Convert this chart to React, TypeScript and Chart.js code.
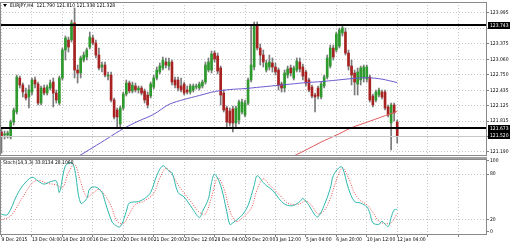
import React, { useEffect, useRef } from 'react';
import { Chart, registerables } from 'chart.js';

Chart.register(...registerables);

const N_SLOTS = 160;
const dateLabels = ['9 Dec 2015', '13 Dec 04:00', '14 Dec 20:00', '16 Dec 12:00', '20 Dec 04:00', '21 Dec 20:00', '23 Dec 12:00', '28 Dec 04:00', '29 Dec 20:00', '3 Jan 12:00', '5 Jan 04:00', '6 Jan 20:00', '10 Jan 12:00', '12 Jan 04:00'];

const openP = [121.593,121.533,121.533,121.492,121.795,121.997,122.683,122.542,122.360,122.300,122.400,122.643,122.562,122.178,122.481,122.380,122.481,122.602,122.380,122.178,122.683,123.248,123.450,123.450,123.793,122.844,122.784,123.046,123.107,123.309,123.490,123.389,123.147,122.905,122.945,122.723,122.743,122.239,122.037,121.755,122.078,122.360,122.582,122.421,122.522,122.441,122.481,122.421,122.340,122.320,122.501,122.683,122.804,122.885,123.006,122.925,123.006,122.643,122.643,122.522,122.562,122.441,122.400,122.441,122.501,122.481,122.522,122.602,122.844,122.844,123.187,123.127,122.885,122.380,122.078,122.017,122.057,121.775,121.835,121.997,121.936,122.178,122.643,122.905,123.752,123.288,123.147,122.844,122.905,122.986,122.905,122.844,122.562,122.481,122.743,122.885,122.683,122.844,123.006,122.905,122.804,122.643,122.501,122.340,122.481,122.300,122.522,122.703,122.925,123.288,123.248,123.329,123.591,123.611,123.187,122.925,122.784,122.562,122.643,122.683,122.663,122.703,122.320,122.239,122.340,122.400,122.400,122.098,121.775,122.138,121.795];
const highP = [121.674,121.613,121.613,121.835,122.078,122.743,122.723,122.582,122.481,122.542,122.683,122.703,122.602,122.522,122.542,122.542,122.643,122.683,122.441,122.723,123.288,123.531,123.510,123.853,124.096,122.945,123.127,123.208,123.288,123.611,123.551,123.450,123.288,123.006,123.006,122.804,122.804,122.279,122.078,122.118,122.400,122.643,122.622,122.602,122.582,122.522,122.522,122.461,122.400,122.602,122.743,122.905,122.986,123.107,123.087,123.087,123.046,122.703,122.703,122.683,122.602,122.522,122.562,122.562,122.562,122.602,122.643,123.006,123.087,123.228,123.228,123.187,122.925,122.441,122.118,122.078,122.118,122.118,122.239,122.259,122.239,122.683,123.750,123.813,123.813,123.369,123.248,123.046,123.147,123.087,122.986,122.885,122.602,122.844,122.925,122.945,122.925,123.087,123.087,122.965,122.844,122.683,122.542,122.380,122.522,122.602,122.743,123.147,123.349,123.349,123.611,123.692,123.732,123.692,123.248,123.046,122.844,122.885,122.925,122.945,122.945,122.743,122.360,122.441,122.481,122.441,122.441,122.138,122.178,122.178,121.835];
const lowP = [121.169,121.452,121.472,121.452,121.734,121.956,122.481,122.300,122.239,122.078,122.340,122.481,122.138,122.138,122.340,122.340,122.441,122.098,122.178,122.138,122.643,123.046,123.208,123.409,122.683,122.582,122.683,123.006,123.046,123.268,123.349,123.087,122.844,122.804,122.703,122.643,122.199,121.856,121.694,121.694,122.037,122.320,122.380,122.380,122.400,122.380,122.340,122.178,122.078,122.279,122.461,122.643,122.764,122.844,122.885,122.844,122.542,122.481,122.421,122.400,122.340,122.360,122.360,122.400,122.461,122.441,122.481,122.562,122.804,122.784,123.006,122.764,122.138,121.997,121.694,121.714,121.593,121.674,121.755,121.956,121.896,122.138,122.602,122.844,123.248,122.945,122.905,122.804,122.844,122.804,122.743,122.441,122.400,122.400,122.683,122.723,122.643,122.804,122.804,122.643,122.522,122.400,122.279,121.997,122.259,122.259,122.481,122.663,122.885,123.046,123.208,123.288,123.531,123.147,122.844,122.542,122.340,122.340,122.542,122.602,122.602,122.199,122.098,122.199,122.300,122.259,122.037,121.896,121.230,121.815,121.371];
const closeP = [121.513,121.553,121.573,121.795,122.037,122.703,122.542,122.400,122.279,122.441,122.643,122.562,122.178,122.481,122.380,122.501,122.582,122.380,122.239,122.683,123.248,123.490,123.309,123.793,122.844,122.784,123.087,123.147,123.248,123.510,123.389,123.147,122.885,122.945,122.743,122.743,122.239,121.896,121.896,122.078,122.360,122.582,122.421,122.542,122.441,122.481,122.380,122.239,122.138,122.562,122.683,122.844,122.925,123.046,122.945,123.006,122.602,122.542,122.481,122.441,122.380,122.400,122.522,122.522,122.522,122.562,122.602,122.945,123.006,123.167,123.066,122.824,122.340,122.037,121.795,121.775,121.775,122.078,122.199,122.199,122.178,122.643,122.945,123.752,123.288,123.147,123.006,122.986,123.006,122.905,122.804,122.542,122.481,122.784,122.865,122.784,122.885,123.026,122.865,122.723,122.582,122.441,122.320,122.300,122.320,122.562,122.703,123.087,123.288,123.107,123.571,123.652,123.692,123.187,122.925,122.743,122.602,122.804,122.885,122.905,122.905,122.239,122.138,122.400,122.441,122.300,122.078,121.936,122.138,121.977,121.513];

// moving averages, read at selected bars
const maBlueBars = [24, 25, 30, 35, 40, 45, 50, 55, 60, 65, 70, 75, 80, 85, 90, 95, 100, 105, 110, 115, 120, 125, 130];
const maBlueVals = [121.07, 121.095, 121.28, 121.47, 121.662, 121.814, 121.95, 122.15, 122.25, 122.33, 122.41, 122.45, 122.47, 122.50, 122.53, 122.56, 122.59, 122.61, 122.64, 122.67, 122.69, 122.66, 122.59];
const maRedBars = [94, 100, 105, 110, 115, 120, 125, 130];
const maRedVals = [121.05, 121.23, 121.39, 121.53, 121.68, 121.79, 121.90, 122.01];

// stochastic
const stochKBars = [0, 2, 5, 7, 10, 12, 14, 16, 18, 19, 21, 23, 24, 26, 28, 29, 31, 33, 34, 36, 37, 39, 41, 42, 45, 47, 49, 51, 53, 55, 56, 58, 60, 62, 65, 66, 68, 69, 70, 72, 74, 75, 76, 79, 81, 83, 84, 86, 87, 89, 92, 94, 96, 98, 99, 101, 103, 104, 106, 108, 109, 111, 112, 114, 116, 118, 120, 121, 122, 124, 125, 127, 128, 129, 130];
const stochKVals = [27, 27, 52, 65, 76, 71, 67, 70, 71, 56, 91, 95, 87, 42, 48, 61, 63, 56, 44, 20, 14, 11, 31, 42, 44, 48, 56, 78, 91, 84, 82, 56, 50, 39, 23, 31, 48, 69, 80, 65, 31, 14, 16, 26, 39, 65, 78, 69, 65, 59, 44, 39, 39, 44, 48, 39, 26, 24, 39, 61, 78, 89, 89, 61, 44, 42, 37, 29, 16, 14, 18, 11, 23, 33, 33.8];
const stochDBars = [0, 3, 7, 10, 12, 15, 18, 20, 22, 24, 26, 28, 30, 32, 34, 36, 38, 40, 42, 44, 47, 50, 52, 54, 56, 58, 60, 62, 65, 67, 69, 71, 73, 75, 77, 79, 82, 84, 86, 88, 90, 92, 94, 96, 98, 100, 102, 104, 106, 108, 110, 112, 114, 116, 118, 120, 122, 124, 126, 128, 130];
const stochDVals = [20, 25, 50, 68, 72, 68, 66, 62, 82, 93, 70, 50, 55, 60, 52, 38, 18, 15, 28, 40, 45, 55, 75, 88, 80, 66, 55, 45, 30, 28, 50, 75, 62, 32, 18, 22, 35, 60, 74, 66, 58, 50, 42, 40, 41, 45, 38, 28, 32, 48, 72, 88, 75, 55, 45, 40, 30, 18, 15, 16, 28.1];

const priceTicks = [123.995, 123.685, 123.375, 123.060, 122.750, 122.435, 122.125, 121.815, 121.505, 121.190];
const hiddenPriceTicks = [123.685, 121.505];
// stochastic scale labels; the 100 and 0 labels sit slightly inside the pane, as in the terminal
const stochTickLabels = ['100', '80', '20', '0'];
const stochTickPos = [97.5, 80, 20, 4];
const priceLevels = [123.743, 121.673];
const bidPrice = 121.520;
const headerText = 'EURJPY,H4  121.790 121.810 121.338 121.328';
const stochText = 'Stoch(14,3,3) 33.8134 28.1068';

const FONT_FAMILY = "'Liberation Sans Narrow', 'DejaVu Sans Condensed', 'Liberation Sans', Arial, sans-serif";
const FS = 5;
const GRID = '#c4c4c4';
const FRAME = '#8a8a8a';
const BULL = '#2e9a2e';
const BEAR = '#a82222';

const catLabels = Array.from({ length: N_SLOTS }, (_, i) => (i % 10 === 0 && i / 10 < dateLabels.length ? dateLabels[i / 10] : ''));

function sparse(bars: number[], vals: number[]) {
  const arr: (number | null)[] = new Array(closeP.length).fill(null);
  bars.forEach((b, k) => { arr[b] = vals[k]; });
  return arr;
}

const framePlugin = {
  id: 'frame',
  afterDraw(chart: any) {
    const { ctx, chartArea: a } = chart;
    ctx.save();
    ctx.strokeStyle = FRAME;
    ctx.lineWidth = 1;
    ctx.strokeRect(Math.round(a.left) + 0.5, Math.round(a.top) + 0.5, Math.round(a.right - a.left) - 1, Math.round(a.bottom - a.top) - 1);
    ctx.restore();
  },
};

const mainOverlay = {
  id: 'mainOverlay',
  afterDatasetsDraw(chart: any) {
    const { ctx, chartArea: a, scales } = chart;
    const y = scales.y;
    ctx.save();
    const by = Math.round(y.getPixelForValue(bidPrice)) + 0.5;
    ctx.strokeStyle = '#c8c8c8';
    ctx.lineWidth = 1;
    ctx.beginPath(); ctx.moveTo(a.left, by); ctx.lineTo(a.right, by); ctx.stroke();
    ctx.strokeStyle = '#000';
    ctx.lineWidth = 2;
    priceLevels.forEach((v) => {
      const py = Math.round(y.getPixelForValue(v));
      ctx.beginPath(); ctx.moveTo(a.left, py); ctx.lineTo(a.right, py); ctx.stroke();
    });
    ctx.restore();
  },
  afterDraw(chart: any) {
    const { ctx, chartArea: a, scales, width } = chart;
    const y = scales.y;
    ctx.save();
    ctx.font = `${FS}px ${FONT_FAMILY}`;
    ctx.textBaseline = 'middle';
    [...priceLevels, bidPrice].forEach((v) => {
      const py = y.getPixelForValue(v);
      ctx.fillStyle = '#000';
      ctx.fillRect(a.right + 1, Math.round(py - 3.5), width - a.right - 1, 7);
      ctx.fillStyle = '#fff';
      ctx.fillText(v.toFixed(3), a.right + 3, py + 0.5);
    });
    ctx.fillStyle = '#000';
    ctx.beginPath(); ctx.moveTo(3, 4); ctx.lineTo(7, 4); ctx.lineTo(5, 7); ctx.closePath(); ctx.fill();
    ctx.textAlign = 'left';
    ctx.fillText(headerText, 10, 5.5);
    ctx.restore();
  },
};

const stochOverlay = {
  id: 'stochOverlay',
  afterDraw(chart: any) {
    const { ctx, chartArea: a } = chart;
    ctx.save();
    ctx.fillStyle = '#a0a0a0';
    ctx.fillRect(0, 0, a.right, 2);
    ctx.fillStyle = '#000';
    ctx.font = `${FS}px ${FONT_FAMILY}`;
    ctx.textBaseline = 'middle';
    ctx.fillText(stochText, 3, a.top + 4);
    ctx.restore();
  },
};

export default function App() {
  const mainRef = useRef<HTMLCanvasElement>(null);
  const stochRef = useRef<HTMLCanvasElement>(null);

  useEffect(() => {
    document.body.style.margin = '0';
    const font = { family: FONT_FAMILY, size: FS };
    const bodies = openP.map((o, i) => [Math.min(o, closeP[i]), Math.max(o, closeP[i])]);
    const wicks = lowP.map((l, i) => [l, highP[i]]);
    const bodyColors = openP.map((o, i) => (closeP[i] >= o ? BULL : BEAR));
    const filterX = (s: any) => { s.ticks = s.ticks.filter((t: any) => t.value % 10 === 0); };

    const main = new Chart(mainRef.current!, {
      type: 'bar',
      data: {
        labels: catLabels,
        datasets: [
          { type: 'line', label: 'MA1', data: sparse(maBlueBars, maBlueVals), borderColor: '#6a5acd', borderWidth: 1, pointRadius: 0, spanGaps: true, tension: 0.3, order: 0 } as any,
          { type: 'line', label: 'MA2', data: sparse(maRedBars, maRedVals), borderColor: '#e05a5a', borderWidth: 1, pointRadius: 0, spanGaps: true, tension: 0.3, order: 0 } as any,
          { label: 'body', data: bodies, backgroundColor: bodyColors, barThickness: 2, grouped: false, minBarLength: 1, borderWidth: 0, order: 1 } as any,
          { label: 'wick', data: wicks, backgroundColor: '#7a7a7a', barThickness: 1, grouped: false, borderWidth: 0, order: 2 } as any,
        ],
      },
      options: {
        animation: false,
        responsive: false,
        maintainAspectRatio: false,
        events: [],
        layout: { padding: { top: 2, bottom: 1, left: 0, right: 0 } },
        plugins: { legend: { display: false }, tooltip: { enabled: false } },
        scales: {
          x: {
            type: 'category',
            offset: true,
            grid: { offset: false, color: GRID, drawTicks: false },
            border: { display: false, dash: [1, 2] },
            ticks: { display: false, autoSkip: false },
            afterBuildTicks: filterX,
            afterFit: (s: any) => { s.height = 0; s.paddingLeft = 0; s.paddingRight = 0; },
          },
          y: {
            position: 'right',
            min: 121.109,
            max: 124.217,
            afterBuildTicks: (s: any) => { s.ticks = priceTicks.map((v) => ({ value: v })); },
            ticks: { font, color: '#000', padding: 1, autoSkip: false, callback: (v: any) => (hiddenPriceTicks.includes(v) ? '' : Number(v).toFixed(3)) },
            grid: { color: GRID, tickLength: 2, tickColor: '#808080' },
            border: { display: false, dash: [1, 2] },
            afterFit: (s: any) => { s.width = 23; s.paddingTop = 0; s.paddingBottom = 0; },
          },
        },
      },
      plugins: [framePlugin, mainOverlay],
    } as any);

    const stoch = new Chart(stochRef.current!, {
      type: 'line',
      data: {
        labels: catLabels,
        datasets: [
          { label: 'K', data: sparse(stochKBars, stochKVals), borderColor: '#2cb8ac', borderWidth: 1, pointRadius: 0, spanGaps: true, tension: 0.35 },
          { label: 'D', data: sparse(stochDBars, stochDVals), borderColor: '#f04848', borderWidth: 1, borderDash: [1, 1.5], pointRadius: 0, spanGaps: true, tension: 0.35 },
        ],
      },
      options: {
        animation: false,
        responsive: false,
        maintainAspectRatio: false,
        events: [],
        layout: { padding: { top: 2, bottom: 0, left: 0, right: 0 } },
        plugins: { legend: { display: false }, tooltip: { enabled: false } },
        scales: {
          x: {
            type: 'category',
            offset: true,
            grid: { offset: false, color: GRID, tickLength: 2, tickColor: '#808080' },
            border: { display: false, dash: [1, 2] },
            ticks: { font, color: '#000', autoSkip: false, maxRotation: 0, minRotation: 0, align: 'start', padding: 0, callback: (v: any) => catLabels[v] },
            afterBuildTicks: filterX,
            afterFit: (s: any) => { s.height = 9; s.paddingLeft = 0; s.paddingRight = 0; },
          },
          y: {
            position: 'right',
            min: 0,
            max: 100,
            afterBuildTicks: (s: any) => { s.ticks = stochTickPos.map((v) => ({ value: v })); },
            ticks: { font, color: '#000', padding: 1, autoSkip: false, callback: (v: any) => stochTickLabels[stochTickPos.indexOf(v)] ?? '' },
            grid: {
              color: (c: any) => (c.tick && (c.tick.value === 80 || c.tick.value === 20) ? GRID : 'rgba(0,0,0,0)'),
              tickLength: 2,
              tickColor: '#808080',
            },
            border: { display: false, dash: [1, 2] },
            afterFit: (s: any) => { s.width = 23; s.paddingTop = 0; s.paddingBottom = 0; },
          },
        },
      },
      plugins: [framePlugin, stochOverlay],
    } as any);

    return () => { main.destroy(); stoch.destroy(); };
  }, []);

  return (
    <div style={{ width: 510, height: 244, background: '#fff', overflow: 'hidden' }}>
      <canvas ref={mainRef} width={510} height={157} style={{ display: 'block', width: 510, height: 157 }} />
      <canvas ref={stochRef} width={510} height={87} style={{ display: 'block', width: 510, height: 87 }} />
    </div>
  );
}
